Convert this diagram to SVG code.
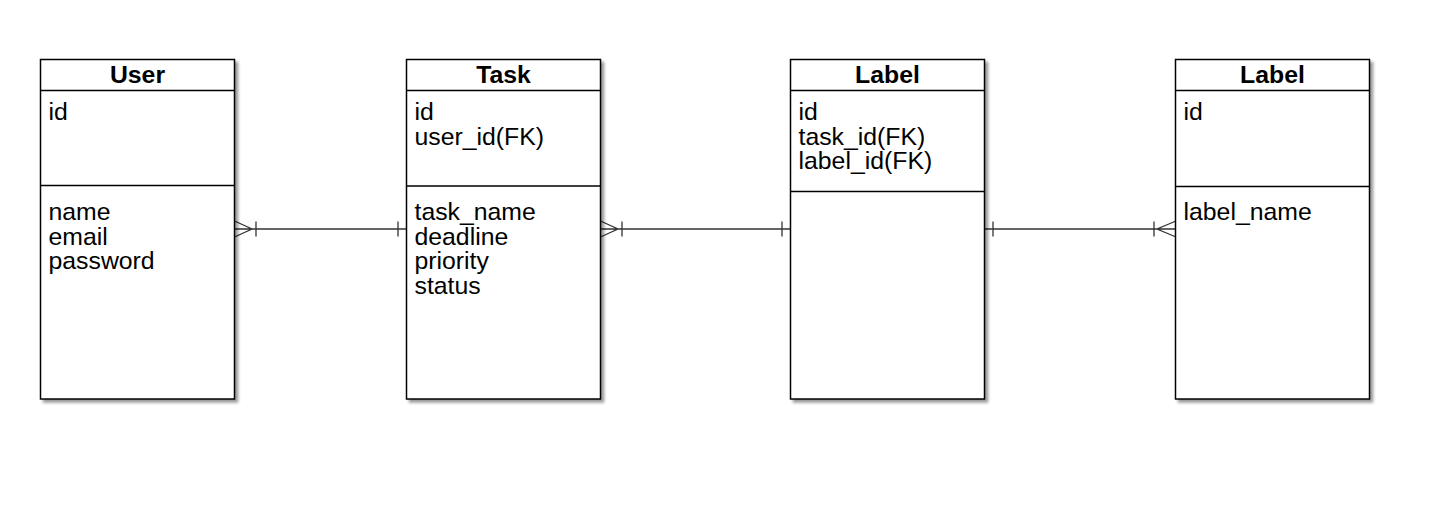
<svg xmlns="http://www.w3.org/2000/svg" width="1433" height="510" viewBox="0 0 1433 510">
<defs>
<filter id="sh" x="-10%" y="-10%" width="130%" height="130%">
<feGaussianBlur in="SourceAlpha" stdDeviation="1.8"/>
<feOffset dx="3" dy="3" result="b"/>
<feComponentTransfer><feFuncA type="linear" slope="0.4"/></feComponentTransfer>
<feMerge><feMergeNode/><feMergeNode in="SourceGraphic"/></feMerge>
</filter>
</defs>
<style>
.box{fill:#fff;stroke:#000;stroke-width:1.5;filter:url(#sh)}
.ln{stroke:#000;stroke-width:1.5;fill:none}
.h{font-family:"Liberation Sans",Arial,sans-serif;font-size:24.8px;font-weight:bold;text-anchor:middle;fill:#000}
.t{font-family:"Liberation Sans",Arial,sans-serif;font-size:24.8px;fill:#000}
.c{stroke:#333;stroke-width:1.3;fill:none}
</style>
<rect width="1433" height="510" fill="#fff"/>
<g id="connectors">
<path class="c" d="M234.5 229 H406.5 M234.5 221 L252 229 L234.5 237 M256 221.5 V236.5 M398 221.5 V236.5"/>
<path class="c" d="M600.5 229 H790.5 M600.5 221 L618 229 L600.5 237 M622 221.5 V236.5 M782 221.5 V236.5"/>
<path class="c" d="M984.5 229 H1176 M993 221.5 V236.5 M1154 221.5 V236.5 M1176 221 L1157 229 L1176 237"/>
</g>
<g id="user">
<rect class="box" x="40.5" y="59.5" width="194" height="339.5"/>
<path class="ln" d="M40.5 90.5 H234.5 M40.5 185.5 H234.5"/>
<text class="h" x="137.5" y="83">User</text>
<text class="t" x="48.5" y="120">id</text>
<text class="t" x="48.5" y="220">name</text>
<text class="t" x="48.5" y="244.7">email</text>
<text class="t" x="48.5" y="269.4">password</text>
</g>
<g id="task">
<rect class="box" x="406.5" y="59.5" width="194" height="339.5"/>
<path class="ln" d="M406.5 90.5 H600.5 M406.5 186 H600.5"/>
<text class="h" x="503.5" y="83">Task</text>
<text class="t" x="414.5" y="120">id</text>
<text class="t" x="414.5" y="144.7">user_id(FK)</text>
<text class="t" x="414.5" y="220">task_name</text>
<text class="t" x="414.5" y="244.7">deadline</text>
<text class="t" x="414.5" y="269.4">priority</text>
<text class="t" x="414.5" y="294.1">status</text>
</g>
<g id="label1">
<rect class="box" x="790.5" y="59.5" width="194" height="339.5"/>
<path class="ln" d="M790.5 90.5 H984.5 M790.5 191.5 H984.5"/>
<text class="h" x="887.5" y="83">Label</text>
<text class="t" x="798.5" y="120">id</text>
<text class="t" x="798.5" y="144.7">task_id(FK)</text>
<text class="t" x="798.5" y="169.4">label_id(FK)</text>
</g>
<g id="label2">
<rect class="box" x="1175.5" y="59.5" width="194" height="339.5"/>
<path class="ln" d="M1175.5 90.5 H1369.5 M1175.5 186.5 H1369.5"/>
<text class="h" x="1272.5" y="83">Label</text>
<text class="t" x="1183.5" y="120">id</text>
<text class="t" x="1183.5" y="219.5">label_name</text>
</g>
</svg>
